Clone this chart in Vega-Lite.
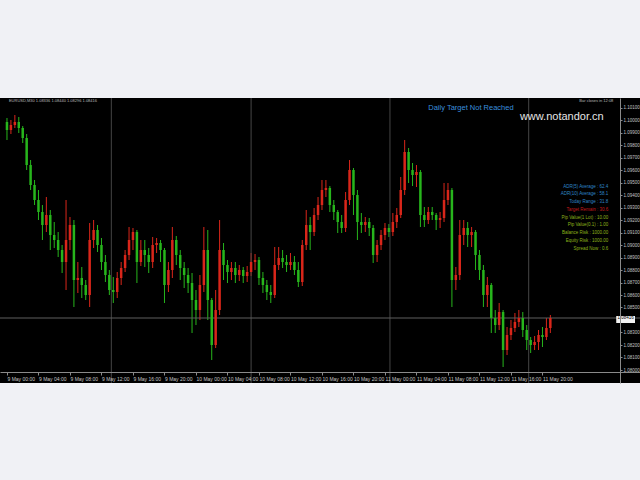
{
  "$schema": "https://vega.github.io/schema/vega-lite/v6.json",
  "width": 640,
  "height": 285,
  "autosize": {"type": "none"},
  "padding": {"top": 98, "bottom": 97, "left": 0, "right": 0},
  "background": "#f0f1f5",
  "config": {
    "view": {"fill": "#000000", "stroke": null},
    "font": "Liberation Sans",
    "axis": {"grid": false, "labelFont": "Liberation Sans", "labelColor": "#c4c4c4", "domainColor": "#8a8a8a", "tickColor": "#8a8a8a", "zindex": 1}
  },
  "resolve": {"axis": {"x": "independent", "y": "independent"}},
  "datasets": {
    "candles": [
      {"t":"2023-05-09T00:00","o":1.09984,"h":1.10016,"l":1.09840,"c":1.09920},
      {"t":"2023-05-09T00:30","o":1.09920,"h":1.10000,"l":1.09888,"c":1.09960},
      {"t":"2023-05-09T01:00","o":1.09960,"h":1.10040,"l":1.09936,"c":1.09984},
      {"t":"2023-05-09T01:30","o":1.09984,"h":1.10024,"l":1.09896,"c":1.09936},
      {"t":"2023-05-09T02:00","o":1.09936,"h":1.09952,"l":1.09816,"c":1.09856},
      {"t":"2023-05-09T02:30","o":1.09856,"h":1.09888,"l":1.09600,"c":1.09640},
      {"t":"2023-05-09T03:00","o":1.09640,"h":1.09680,"l":1.09440,"c":1.09480},
      {"t":"2023-05-09T03:30","o":1.09480,"h":1.09520,"l":1.09320,"c":1.09360},
      {"t":"2023-05-09T04:00","o":1.09360,"h":1.09440,"l":1.09200,"c":1.09264},
      {"t":"2023-05-09T04:30","o":1.09264,"h":1.09320,"l":1.09040,"c":1.09160},
      {"t":"2023-05-09T05:00","o":1.09160,"h":1.09384,"l":1.09104,"c":1.09240},
      {"t":"2023-05-09T05:30","o":1.09240,"h":1.09280,"l":1.08960,"c":1.09080},
      {"t":"2023-05-09T06:00","o":1.09080,"h":1.09184,"l":1.08976,"c":1.09040},
      {"t":"2023-05-09T06:30","o":1.09040,"h":1.09104,"l":1.08904,"c":1.08960},
      {"t":"2023-05-09T07:00","o":1.08960,"h":1.09000,"l":1.08776,"c":1.08864},
      {"t":"2023-05-09T07:30","o":1.08864,"h":1.09360,"l":1.08640,"c":1.09040},
      {"t":"2023-05-09T08:00","o":1.09040,"h":1.09224,"l":1.08960,"c":1.09160},
      {"t":"2023-05-09T08:30","o":1.09160,"h":1.09200,"l":1.08504,"c":1.08720},
      {"t":"2023-05-09T09:00","o":1.08720,"h":1.08864,"l":1.08616,"c":1.08736},
      {"t":"2023-05-09T09:30","o":1.08736,"h":1.08824,"l":1.08576,"c":1.08680},
      {"t":"2023-05-09T10:00","o":1.08680,"h":1.08720,"l":1.08560,"c":1.08600},
      {"t":"2023-05-09T10:30","o":1.08600,"h":1.09176,"l":1.08504,"c":1.09040},
      {"t":"2023-05-09T11:00","o":1.09040,"h":1.09200,"l":1.08976,"c":1.09120},
      {"t":"2023-05-09T11:30","o":1.09120,"h":1.09160,"l":1.08944,"c":1.09000},
      {"t":"2023-05-09T12:00","o":1.09000,"h":1.09056,"l":1.08800,"c":1.08864},
      {"t":"2023-05-09T12:30","o":1.08864,"h":1.08920,"l":1.08704,"c":1.08760},
      {"t":"2023-05-09T13:00","o":1.08760,"h":1.08800,"l":1.08600,"c":1.08640},
      {"t":"2023-05-09T13:30","o":1.08640,"h":1.08744,"l":1.08536,"c":1.08624},
      {"t":"2023-05-09T14:00","o":1.08624,"h":1.08784,"l":1.08576,"c":1.08736},
      {"t":"2023-05-09T14:30","o":1.08736,"h":1.08864,"l":1.08680,"c":1.08816},
      {"t":"2023-05-09T15:00","o":1.08816,"h":1.08960,"l":1.08784,"c":1.08920},
      {"t":"2023-05-09T15:30","o":1.08920,"h":1.09144,"l":1.08880,"c":1.09040},
      {"t":"2023-05-09T16:00","o":1.09040,"h":1.09136,"l":1.08960,"c":1.09104},
      {"t":"2023-05-09T16:30","o":1.09104,"h":1.09120,"l":1.08696,"c":1.08864},
      {"t":"2023-05-09T17:00","o":1.08864,"h":1.09040,"l":1.08832,"c":1.08960},
      {"t":"2023-05-09T17:30","o":1.08960,"h":1.09040,"l":1.08824,"c":1.08920},
      {"t":"2023-05-09T18:00","o":1.08920,"h":1.08976,"l":1.08776,"c":1.08864},
      {"t":"2023-05-09T18:30","o":1.08864,"h":1.09064,"l":1.08816,"c":1.09000},
      {"t":"2023-05-09T19:00","o":1.09000,"h":1.09056,"l":1.08936,"c":1.09016},
      {"t":"2023-05-09T19:30","o":1.09016,"h":1.09040,"l":1.08864,"c":1.08960},
      {"t":"2023-05-09T20:00","o":1.08960,"h":1.08976,"l":1.08536,"c":1.08680},
      {"t":"2023-05-09T20:30","o":1.08680,"h":1.08864,"l":1.08624,"c":1.08800},
      {"t":"2023-05-09T21:00","o":1.08800,"h":1.09144,"l":1.08736,"c":1.09040},
      {"t":"2023-05-09T21:30","o":1.09040,"h":1.09072,"l":1.08840,"c":1.08920},
      {"t":"2023-05-09T22:00","o":1.08920,"h":1.08960,"l":1.08720,"c":1.08816},
      {"t":"2023-05-09T22:30","o":1.08816,"h":1.08864,"l":1.08656,"c":1.08760},
      {"t":"2023-05-09T23:00","o":1.08760,"h":1.08816,"l":1.08616,"c":1.08696},
      {"t":"2023-05-09T23:30","o":1.08696,"h":1.08776,"l":1.08296,"c":1.08560},
      {"t":"2023-05-10T00:00","o":1.08560,"h":1.08640,"l":1.08360,"c":1.08480},
      {"t":"2023-05-10T00:30","o":1.08480,"h":1.08760,"l":1.08400,"c":1.08680},
      {"t":"2023-05-10T01:00","o":1.08680,"h":1.09144,"l":1.08624,"c":1.08960},
      {"t":"2023-05-10T01:30","o":1.08960,"h":1.09120,"l":1.08400,"c":1.08560},
      {"t":"2023-05-10T02:00","o":1.08560,"h":1.08576,"l":1.08080,"c":1.08200},
      {"t":"2023-05-10T02:30","o":1.08200,"h":1.08640,"l":1.08176,"c":1.08480},
      {"t":"2023-05-10T03:00","o":1.08480,"h":1.09200,"l":1.08440,"c":1.08960},
      {"t":"2023-05-10T03:30","o":1.08960,"h":1.09016,"l":1.08720,"c":1.08840},
      {"t":"2023-05-10T04:00","o":1.08840,"h":1.08880,"l":1.08696,"c":1.08784},
      {"t":"2023-05-10T04:30","o":1.08784,"h":1.08864,"l":1.08720,"c":1.08816},
      {"t":"2023-05-10T05:00","o":1.08816,"h":1.08864,"l":1.08696,"c":1.08760},
      {"t":"2023-05-10T05:30","o":1.08760,"h":1.08840,"l":1.08712,"c":1.08800},
      {"t":"2023-05-10T06:00","o":1.08800,"h":1.08824,"l":1.08696,"c":1.08752},
      {"t":"2023-05-10T06:30","o":1.08752,"h":1.08832,"l":1.08704,"c":1.08784},
      {"t":"2023-05-10T07:00","o":1.08784,"h":1.08936,"l":1.08752,"c":1.08864},
      {"t":"2023-05-10T07:30","o":1.08864,"h":1.08928,"l":1.08800,"c":1.08880},
      {"t":"2023-05-10T08:00","o":1.08880,"h":1.08904,"l":1.08680,"c":1.08736},
      {"t":"2023-05-10T08:30","o":1.08736,"h":1.08784,"l":1.08616,"c":1.08680},
      {"t":"2023-05-10T09:00","o":1.08680,"h":1.08720,"l":1.08560,"c":1.08624},
      {"t":"2023-05-10T09:30","o":1.08624,"h":1.08680,"l":1.08536,"c":1.08600},
      {"t":"2023-05-10T10:00","o":1.08600,"h":1.08984,"l":1.08576,"c":1.08840},
      {"t":"2023-05-10T10:30","o":1.08840,"h":1.08984,"l":1.08800,"c":1.08896},
      {"t":"2023-05-10T11:00","o":1.08896,"h":1.08960,"l":1.08816,"c":1.08864},
      {"t":"2023-05-10T11:30","o":1.08864,"h":1.08920,"l":1.08784,"c":1.08840},
      {"t":"2023-05-10T12:00","o":1.08840,"h":1.08936,"l":1.08800,"c":1.08864},
      {"t":"2023-05-10T12:30","o":1.08864,"h":1.08912,"l":1.08760,"c":1.08800},
      {"t":"2023-05-10T13:00","o":1.08800,"h":1.08864,"l":1.08664,"c":1.08704},
      {"t":"2023-05-10T13:30","o":1.08704,"h":1.09040,"l":1.08672,"c":1.09000},
      {"t":"2023-05-10T14:00","o":1.09000,"h":1.09280,"l":1.08960,"c":1.09160},
      {"t":"2023-05-10T14:30","o":1.09160,"h":1.09224,"l":1.08960,"c":1.09104},
      {"t":"2023-05-10T15:00","o":1.09104,"h":1.09296,"l":1.09072,"c":1.09240},
      {"t":"2023-05-10T15:30","o":1.09240,"h":1.09384,"l":1.09200,"c":1.09320},
      {"t":"2023-05-10T16:00","o":1.09320,"h":1.09520,"l":1.09280,"c":1.09440},
      {"t":"2023-05-10T16:30","o":1.09440,"h":1.09520,"l":1.09384,"c":1.09456},
      {"t":"2023-05-10T17:00","o":1.09456,"h":1.09472,"l":1.09264,"c":1.09320},
      {"t":"2023-05-10T17:30","o":1.09320,"h":1.09360,"l":1.09200,"c":1.09264},
      {"t":"2023-05-10T18:00","o":1.09264,"h":1.09280,"l":1.09096,"c":1.09184},
      {"t":"2023-05-10T18:30","o":1.09184,"h":1.09240,"l":1.09096,"c":1.09136},
      {"t":"2023-05-10T19:00","o":1.09136,"h":1.09424,"l":1.09104,"c":1.09360},
      {"t":"2023-05-10T19:30","o":1.09360,"h":1.09680,"l":1.09320,"c":1.09600},
      {"t":"2023-05-10T20:00","o":1.09600,"h":1.09616,"l":1.09240,"c":1.09400},
      {"t":"2023-05-10T20:30","o":1.09400,"h":1.09440,"l":1.09040,"c":1.09184},
      {"t":"2023-05-10T21:00","o":1.09184,"h":1.09256,"l":1.09096,"c":1.09160},
      {"t":"2023-05-10T21:30","o":1.09160,"h":1.09224,"l":1.09104,"c":1.09184},
      {"t":"2023-05-10T22:00","o":1.09184,"h":1.09216,"l":1.09072,"c":1.09136},
      {"t":"2023-05-10T22:30","o":1.09136,"h":1.09160,"l":1.08856,"c":1.08920},
      {"t":"2023-05-10T23:00","o":1.08920,"h":1.09040,"l":1.08864,"c":1.09000},
      {"t":"2023-05-10T23:30","o":1.09000,"h":1.09120,"l":1.08960,"c":1.09080},
      {"t":"2023-05-11T00:00","o":1.09080,"h":1.09176,"l":1.09040,"c":1.09136},
      {"t":"2023-05-11T00:30","o":1.09136,"h":1.09168,"l":1.09064,"c":1.09104},
      {"t":"2023-05-11T01:00","o":1.09104,"h":1.09256,"l":1.09072,"c":1.09184},
      {"t":"2023-05-11T01:30","o":1.09184,"h":1.09296,"l":1.09136,"c":1.09240},
      {"t":"2023-05-11T02:00","o":1.09240,"h":1.09544,"l":1.09216,"c":1.09440},
      {"t":"2023-05-11T02:30","o":1.09440,"h":1.09840,"l":1.09400,"c":1.09744},
      {"t":"2023-05-11T03:00","o":1.09744,"h":1.09776,"l":1.09496,"c":1.09600},
      {"t":"2023-05-11T03:30","o":1.09600,"h":1.09656,"l":1.09472,"c":1.09560},
      {"t":"2023-05-11T04:00","o":1.09560,"h":1.09640,"l":1.09464,"c":1.09584},
      {"t":"2023-05-11T04:30","o":1.09584,"h":1.09600,"l":1.09144,"c":1.09240},
      {"t":"2023-05-11T05:00","o":1.09240,"h":1.09304,"l":1.09144,"c":1.09200},
      {"t":"2023-05-11T05:30","o":1.09200,"h":1.09304,"l":1.09168,"c":1.09264},
      {"t":"2023-05-11T06:00","o":1.09264,"h":1.09304,"l":1.09200,"c":1.09240},
      {"t":"2023-05-11T06:30","o":1.09240,"h":1.09256,"l":1.09120,"c":1.09200},
      {"t":"2023-05-11T07:00","o":1.09200,"h":1.09264,"l":1.09136,"c":1.09216},
      {"t":"2023-05-11T07:30","o":1.09216,"h":1.09496,"l":1.09184,"c":1.09360},
      {"t":"2023-05-11T08:00","o":1.09360,"h":1.09496,"l":1.09320,"c":1.09440},
      {"t":"2023-05-11T08:30","o":1.09440,"h":1.09456,"l":1.08504,"c":1.08720},
      {"t":"2023-05-11T09:00","o":1.08720,"h":1.08824,"l":1.08640,"c":1.08760},
      {"t":"2023-05-11T09:30","o":1.08760,"h":1.09200,"l":1.08720,"c":1.09080},
      {"t":"2023-05-11T10:00","o":1.09080,"h":1.09200,"l":1.09000,"c":1.09136},
      {"t":"2023-05-11T10:30","o":1.09136,"h":1.09184,"l":1.08984,"c":1.09080},
      {"t":"2023-05-11T11:00","o":1.09080,"h":1.09144,"l":1.08984,"c":1.09104},
      {"t":"2023-05-11T11:30","o":1.09104,"h":1.09120,"l":1.08800,"c":1.08920},
      {"t":"2023-05-11T12:00","o":1.08920,"h":1.08960,"l":1.08720,"c":1.08800},
      {"t":"2023-05-11T12:30","o":1.08800,"h":1.08840,"l":1.08504,"c":1.08600},
      {"t":"2023-05-11T13:00","o":1.08600,"h":1.08744,"l":1.08504,"c":1.08680},
      {"t":"2023-05-11T13:30","o":1.08680,"h":1.08696,"l":1.08296,"c":1.08416},
      {"t":"2023-05-11T14:00","o":1.08416,"h":1.08480,"l":1.08296,"c":1.08360},
      {"t":"2023-05-11T14:30","o":1.08360,"h":1.08536,"l":1.08320,"c":1.08464},
      {"t":"2023-05-11T15:00","o":1.08464,"h":1.08480,"l":1.08024,"c":1.08160},
      {"t":"2023-05-11T15:30","o":1.08160,"h":1.08344,"l":1.08120,"c":1.08280},
      {"t":"2023-05-11T16:00","o":1.08280,"h":1.08400,"l":1.08240,"c":1.08336},
      {"t":"2023-05-11T16:30","o":1.08336,"h":1.08456,"l":1.08304,"c":1.08384},
      {"t":"2023-05-11T17:00","o":1.08384,"h":1.08480,"l":1.08344,"c":1.08416},
      {"t":"2023-05-11T17:30","o":1.08416,"h":1.08464,"l":1.08264,"c":1.08320},
      {"t":"2023-05-11T18:00","o":1.08320,"h":1.08360,"l":1.08160,"c":1.08240},
      {"t":"2023-05-11T18:30","o":1.08240,"h":1.08264,"l":1.08136,"c":1.08200},
      {"t":"2023-05-11T19:00","o":1.08200,"h":1.08272,"l":1.08160,"c":1.08224},
      {"t":"2023-05-11T19:30","o":1.08224,"h":1.08320,"l":1.08160,"c":1.08280},
      {"t":"2023-05-11T20:00","o":1.08280,"h":1.08344,"l":1.08184,"c":1.08264},
      {"t":"2023-05-11T20:30","o":1.08264,"h":1.08416,"l":1.08240,"c":1.08336},
      {"t":"2023-05-11T21:00","o":1.08336,"h":1.08440,"l":1.08296,"c":1.08416}
    ],
    "grid": [
      {"t":"2023-05-09T13:15"},
      {"t":"2023-05-10T07:00"},
      {"t":"2023-05-11T00:38"},
      {"t":"2023-05-11T18:15"}
    ],
    "bid": [{"p":1.08416,"label":"1.08416"}],
    "notes": [
      {"g":"info","t":"2023-05-09T00:15","p":1.10152,"text":"EURUSD,M30  1.08336 1.08440 1.08296 1.08416"},
      {"g":"timer","t":"2023-05-12T05:00","p":1.10152,"text":"Bar closes in 12:08"},
      {"g":"heading","t":"2023-05-11T05:30","p":1.10096,"text":"Daily Target Not Reached"},
      {"g":"site","t":"2023-05-11T17:08","p":1.10024,"text":"www.notandor.cn"},
      {"g":"range","t":"2023-05-12T04:22","p":1.09464,"text":"ADR(5) Average : 62.4"},
      {"g":"range","t":"2023-05-12T04:22","p":1.09408,"text":"ADR(10) Average : 58.1"},
      {"g":"range","t":"2023-05-12T04:22","p":1.09344,"text":"Today Range : 31.8"},
      {"g":"target","t":"2023-05-12T04:22","p":1.09280,"text":"Target Remain : 30.6"},
      {"g":"risk","t":"2023-05-12T04:22","p":1.09216,"text":"Pip Value(1 Lot) : 10.00"},
      {"g":"risk","t":"2023-05-12T04:22","p":1.09160,"text":"Pip Value(0.1) : 1.00"},
      {"g":"risk","t":"2023-05-12T04:22","p":1.09096,"text":"Balance Risk : 1000.00"},
      {"g":"risk","t":"2023-05-12T04:22","p":1.09032,"text":"Equity Risk : 1000.00"},
      {"g":"risk","t":"2023-05-12T04:22","p":1.08968,"text":"Spread Now : 0.6"}
    ]
  },
  "layer": [
    {
      "data": {"name": "candles"},
      "mark": {"type": "rule", "strokeWidth": 1},
      "encoding": {
        "x": {
          "field": "t", "type": "temporal",
          "scale": {"domain": [{"year":2023,"month":5,"date":8,"hours":23,"minutes":45},{"year":2023,"month":5,"date":12,"hours":7,"minutes":45}], "nice": false},
          "axis": {
            "title": null, "orient": "bottom", "offset": -11, "zindex": 1,
            "values": [
              {"year":2023,"month":5,"date":9,"hours":0},{"year":2023,"month":5,"date":9,"hours":4},{"year":2023,"month":5,"date":9,"hours":8},
              {"year":2023,"month":5,"date":9,"hours":12},{"year":2023,"month":5,"date":9,"hours":16},{"year":2023,"month":5,"date":9,"hours":20},
              {"year":2023,"month":5,"date":10,"hours":0},{"year":2023,"month":5,"date":10,"hours":4},{"year":2023,"month":5,"date":10,"hours":8},
              {"year":2023,"month":5,"date":10,"hours":12},{"year":2023,"month":5,"date":10,"hours":16},{"year":2023,"month":5,"date":10,"hours":20},
              {"year":2023,"month":5,"date":11,"hours":0},{"year":2023,"month":5,"date":11,"hours":4},{"year":2023,"month":5,"date":11,"hours":8},
              {"year":2023,"month":5,"date":11,"hours":12},{"year":2023,"month":5,"date":11,"hours":16},{"year":2023,"month":5,"date":11,"hours":20}
            ],
            "format": "%-d %b %H:%M", "labelFontSize": 5, "labelAlign": "left", "labelPadding": 1,
            "tickSize": 3, "labelOverlap": false, "labelFlush": false
          }
        },
        "y": {
          "field": "h", "type": "quantitative",
          "scale": {"domain": [1.07896, 1.10176], "nice": false, "zero": false},
          "axis": {
            "title": null, "orient": "right", "offset": -20, "zindex": 1,
            "values": [1.080,1.081,1.082,1.083,1.085,1.086,1.087,1.088,1.089,1.090,1.091,1.092,1.093,1.094,1.095,1.096,1.097,1.098,1.099,1.100,1.101],
            "format": ".5f", "labelFontSize": 4.5, "labelPadding": 1, "tickSize": 2, "labelFlush": false, "labelOverlap": false
          }
        },
        "y2": {"field": "l"},
        "color": {"condition": {"test": "datum.c > datum.o", "value": "#d9261a"}, "value": "#27b51c"}
      }
    },
    {
      "data": {"name": "grid"},
      "mark": {"type": "rule", "color": "#454545", "strokeWidth": 1},
      "encoding": {
        "x": {"field": "t", "type": "temporal", "axis": null}
      }
    },
    {
      "data": {"name": "bid"},
      "mark": {"type": "rule", "color": "#5e5e5e", "strokeWidth": 1},
      "encoding": {
        "y": {"field": "p", "type": "quantitative", "axis": null}
      }
    },
    {
      "data": {"name": "candles"},
      "mark": {"type": "bar", "width": 2.5},
      "encoding": {
        "x": {"field": "t", "type": "temporal", "axis": null},
        "y": {"field": "o", "type": "quantitative", "axis": null},
        "y2": {"field": "c"},
        "color": {"condition": {"test": "datum.c > datum.o", "value": "#d9261a"}, "value": "#27b51c"}
      }
    },
    {
      "data": {"name": "bid"},
      "mark": {"type": "rect", "color": "#f2f2f2"},
      "encoding": {
        "x": {"datum": {"year":2023,"month":5,"date":12,"hours":5,"minutes":22}, "type": "temporal", "axis": null},
        "x2": {"datum": {"year":2023,"month":5,"date":12,"hours":7,"minutes":45}},
        "y": {"datum": 1.08432, "type": "quantitative", "axis": null},
        "y2": {"datum": 1.08376}
      }
    },
    {
      "data": {"name": "bid"},
      "mark": {"type": "text", "color": "#000000", "fontSize": 4.5, "align": "center", "baseline": "middle"},
      "encoding": {
        "x": {"datum": {"year":2023,"month":5,"date":12,"hours":6,"minutes":34}, "type": "temporal", "axis": null},
        "y": {"field": "p", "type": "quantitative", "axis": null},
        "text": {"field": "label"}
      }
    },
    {
      "data": {"name": "notes"},
      "transform": [{"filter": "datum.g == 'info'"}],
      "mark": {"type": "text", "color": "#b8b8b8", "fontSize": 4, "align": "left", "baseline": "middle"},
      "encoding": {
        "x": {"field": "t", "type": "temporal", "axis": null},
        "y": {"field": "p", "type": "quantitative", "axis": null},
        "text": {"field": "text"}
      }
    },
    {
      "data": {"name": "notes"},
      "transform": [{"filter": "datum.g == 'timer'"}],
      "mark": {"type": "text", "color": "#b8b8b8", "fontSize": 4, "align": "right", "baseline": "middle"},
      "encoding": {
        "x": {"field": "t", "type": "temporal", "axis": null},
        "y": {"field": "p", "type": "quantitative", "axis": null},
        "text": {"field": "text"}
      }
    },
    {
      "data": {"name": "notes"},
      "transform": [{"filter": "datum.g == 'heading'"}],
      "mark": {"type": "text", "color": "#3a8ede", "fontSize": 7.5, "align": "left", "baseline": "middle"},
      "encoding": {
        "x": {"field": "t", "type": "temporal", "axis": null},
        "y": {"field": "p", "type": "quantitative", "axis": null},
        "text": {"field": "text"}
      }
    },
    {
      "data": {"name": "notes"},
      "transform": [{"filter": "datum.g == 'site'"}],
      "mark": {"type": "text", "color": "#e6e6e6", "fontSize": 11, "align": "left", "baseline": "middle"},
      "encoding": {
        "x": {"field": "t", "type": "temporal", "axis": null},
        "y": {"field": "p", "type": "quantitative", "axis": null},
        "text": {"field": "text"}
      }
    },
    {
      "data": {"name": "notes"},
      "transform": [{"filter": "datum.g == 'range' || datum.g == 'target' || datum.g == 'risk'"}],
      "mark": {"type": "text", "fontSize": 4.5, "align": "right", "baseline": "middle"},
      "encoding": {
        "x": {"field": "t", "type": "temporal", "axis": null},
        "y": {"field": "p", "type": "quantitative", "axis": null},
        "text": {"field": "text"},
        "color": {"field": "g", "type": "nominal", "scale": {"domain": ["range", "target", "risk"], "range": ["#2f86c8", "#c41a1c", "#8cb21a"]}, "legend": null}
      }
    }
  ]
}
